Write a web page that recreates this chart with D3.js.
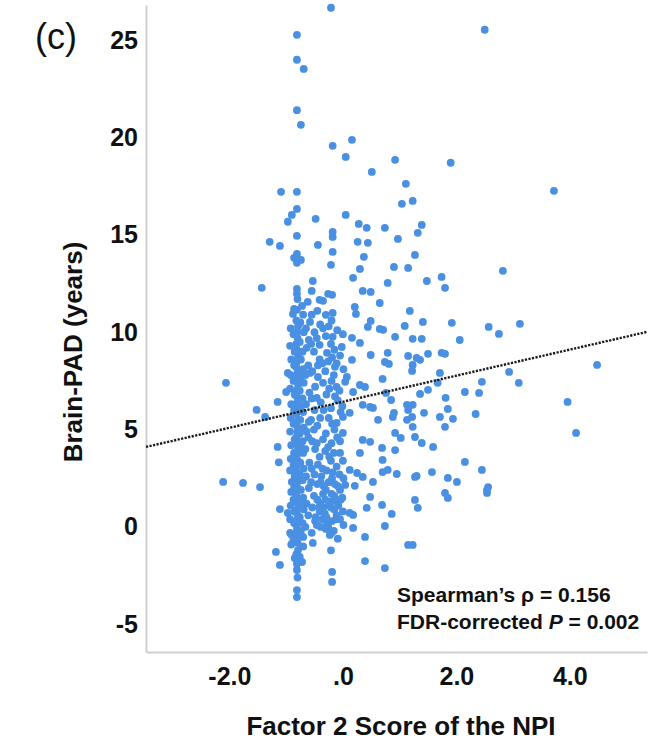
<!DOCTYPE html>
<html>
<head>
<meta charset="utf-8">
<script src="https://cdn.jsdelivr.net/npm/d3@7"></script>
<style>
  html, body { margin: 0; padding: 0; background: #fff; }
  svg { display: block; font-family: "Liberation Sans", Arial, Helvetica, sans-serif; }
</style>
</head>
<body>
<svg id="chart" width="669" height="742"></svg>
<script>
// Factor 2 score of the NPI (x) vs. brain-predicted age difference in years (y)
const participants = [
  // upper range
  [-0.21,26.66],[2.50,25.53],[-0.81,25.27],[-0.81,23.99],[-0.69,23.52],[-0.81,21.40],[-0.74,20.65],
  [0.16,19.88],[-0.18,19.57],[0.05,19.00],[0.92,18.85],[1.90,18.70],[0.51,18.23],[1.11,17.62],[3.72,17.26],
  [-1.09,17.21],[-0.81,17.21],[1.23,16.74],[1.04,16.59],[-0.81,16.33],[-0.90,16.02],[-0.97,15.67],[-0.48,15.82],
  [0.05,16.02],[0.28,15.56],[0.42,15.36],[0.74,15.36],[1.39,15.51],[1.32,15.10],[-0.18,15.15],[-0.18,14.89],
  [0.97,14.79],[0.26,14.64],[0.44,14.59],[-0.81,14.95],[-1.29,14.64],[-1.11,14.43],[-0.44,14.48],
  [-0.18,14.12],[0.37,13.87],[1.27,13.97],[-0.81,14.02],[-0.86,13.82],[-0.74,13.71],[-0.81,13.56],
  [-0.21,13.46],[0.30,13.25],[0.90,13.35],[1.15,13.30],[2.82,13.15],
  [0.18,12.79],[0.79,12.53],[1.48,12.63],[1.74,12.84],[1.80,12.28],[-1.43,12.28],[-0.53,12.63],[-0.55,12.12],
  [-0.81,12.22],[-0.81,11.97],[-0.26,11.97],[0.35,12.12],[0.49,12.07],[-0.19,11.92],
  [-0.35,11.61],[-0.41,11.66],[-0.62,11.56],[-0.72,11.35],[-0.81,11.15],[-0.88,10.94],[-0.30,10.89],
  [0.65,11.50],[0.21,11.30],[0.23,10.94],[1.18,11.09],[-0.18,10.99],
  // 8 to 11 years
  [0.49,10.58],[0.44,10.27],[0.65,10.17],[0.71,10.12],[1.41,10.53],[1.92,10.48],[2.57,10.27],[2.75,9.91],[3.12,10.43],
  [2.06,9.60],[1.09,10.32],[0.92,9.76],[1.23,9.66],[1.39,9.66],[0.16,9.71],[0.30,9.45],[-0.02,9.24],[-0.18,9.76],
  [0.79,8.94],[0.49,8.83],[1.15,8.78],[1.30,8.68],[1.50,8.89],[1.36,8.58],[1.74,8.94],[1.80,8.89],[0.16,8.58],
  [0.74,8.47],[0.81,8.37],[1.23,8.32],[1.22,8.01],[-0.14,8.22],[4.48,8.32],
  [-0.58,10.53],[-0.41,9.35],[-0.28,8.94],[-0.58,7.91],[-0.44,7.70],[-0.35,7.40],[-0.97,7.91],[-0.46,6.63],
  // 5 to 8 years
  [2.93,7.96],[3.10,7.40],[2.45,7.45],[1.71,7.91],[1.67,7.40],[0.70,7.60],[0.07,7.70],[0.04,7.45],[-0.11,7.19],
  [0.30,7.29],[0.39,7.19],[0.18,6.93],[0.76,6.88],[0.85,6.52],[1.36,6.83],[1.50,7.04],[2.15,6.93],[2.40,6.88],
  [3.96,6.42],[1.81,6.63],[1.85,6.06],[1.94,5.55],[2.34,5.80],[1.71,5.65],[1.80,5.14],[1.43,5.86],[1.13,6.27],
  [1.23,6.27],[1.15,6.01],[1.22,5.65],[1.13,5.50],[1.23,5.14],[0.90,5.86],[0.88,5.65],[0.62,5.50],[0.48,6.16],
  [0.35,6.27],[0.53,6.11],[0.12,5.86],[0.00,5.65],[-0.11,5.34],
  [-2.06,7.40],[-1.52,6.01],[-1.37,5.65],[-1.15,6.42],[-1.00,6.93],
  // 2 to 5 years
  [4.11,4.83],[0.92,4.83],[1.02,4.57],[1.27,4.62],[1.39,4.31],[1.59,4.11],[0.92,3.95],[0.00,4.83],[0.35,4.47],
  [0.48,4.37],[0.69,4.06],[0.30,3.80],[-0.05,3.80],[0.70,3.44],[0.79,2.93],[2.15,3.34],[2.45,2.93],[1.57,2.82],
  [0.12,2.93],[0.35,2.57],[0.53,2.31],[1.27,2.57],[1.85,2.52],[2.01,2.31],[2.56,2.05],[0.25,2.77],[0.70,2.82],
  [0.95,2.72],[1.30,2.62],[-1.15,4.11],[-1.13,3.32],
  // below 2 years
  [2.54,1.90],[2.54,1.75],[1.80,1.75],[1.85,1.49],[0.04,2.16],[0.21,2.11],[0.48,1.54],[0.42,0.98],[0.69,1.13],
  [1.27,1.39],[1.32,0.98],[0.12,0.72],[0.18,0.62],[0.86,0.67],[0.18,-0.05],[0.74,0.05],[0.39,-0.51],[1.15,-0.92],
  [1.23,-0.92],[0.39,-1.75],[0.74,-2.11],[-0.19,-2.31],[-0.19,-2.82],
  [-2.11,2.31],[-1.76,2.26],[-1.46,2.05],[-1.11,0.92],[-0.97,0.72],[-0.90,2.31],[-0.93,-0.31],[-0.81,-0.15],
  [-0.70,-0.51],[-0.53,-0.82],[-1.18,-1.28],[-1.11,-1.95],[-0.79,-1.18],[-0.76,-1.54],[-0.72,-1.80],[-0.81,-2.21],
  [-0.81,-3.24],[-0.81,-3.60],[-0.23,-0.41],[-0.90,-0.41],
  // dense block of low factor-2 scores
  [-0.80,11.70],[-0.82,10.60],[-0.79,10.30],[-0.81,10.00],[-0.80,9.70],[-0.82,9.40],[-0.81,9.10],[-0.79,8.80],
  [-0.81,8.50],[-0.82,8.20],[-0.80,7.90],[-0.81,7.60],[-0.79,7.30],[-0.82,7.00],[-0.81,6.70],[-0.80,6.40],
  [-0.81,6.10],[-0.82,5.80],[-0.79,5.50],[-0.81,5.20],[-0.80,4.90],[-0.82,4.60],[-0.81,4.30],[-0.79,4.00],
  [-0.81,3.70],[-0.80,3.40],[-0.82,3.10],[-0.81,2.80],[-0.79,2.50],[-0.81,2.20],[-0.80,1.90],[-0.82,1.60],
  [-0.81,1.30],[-0.79,1.00],[-0.81,0.70],[-0.80,0.40],[-0.82,0.10],[-0.81,-0.50],[-0.80,-0.80],[-0.82,-1.40],
  [-0.81,-1.90],[-0.80,-2.60],
  [-0.92,10.20],[-0.93,9.30],[-0.91,8.60],[-0.92,7.80],[-0.93,7.10],[-0.91,6.30],[-0.92,5.60],[-0.93,4.90],
  [-0.91,4.20],[-0.92,3.50],[-0.93,2.90],[-0.91,1.80],[-0.92,1.10],[-0.93,0.40],[-0.91,-0.90],
  [-0.86,11.20],[-0.87,9.90],[-0.85,9.00],[-0.86,8.30],[-0.87,7.50],[-0.85,6.80],[-0.86,6.00],[-0.87,5.30],
  [-0.85,4.50],[-0.86,3.80],[-0.87,3.20],[-0.85,2.60],[-0.86,2.00],[-0.87,1.40],[-0.85,0.80],[-0.86,0.20],
  [-0.87,-0.70],[-0.85,-1.60],
  [-0.75,10.50],[-0.76,9.50],[-0.74,8.60],[-0.75,7.70],[-0.76,7.00],[-0.74,6.20],[-0.75,5.50],[-0.76,4.80],
  [-0.74,4.10],[-0.75,3.30],[-0.76,2.70],[-0.74,1.90],[-0.75,1.20],[-0.76,0.50],[-0.74,-0.20],
  [-0.70,10.90],[-0.69,10.00],[-0.71,9.00],[-0.70,8.10],[-0.69,7.40],[-0.71,6.60],[-0.70,5.90],[-0.69,5.10],
  [-0.71,4.40],[-0.70,3.80],[-0.69,3.00],[-0.71,2.40],[-0.70,1.50],[-0.69,0.90],[-0.71,0.20],[-0.70,-1.00],
  [-0.65,10.20],[-0.64,9.20],[-0.66,7.80],[-0.65,6.30],[-0.64,4.90],[-0.66,4.00],[-0.65,2.60],[-0.64,1.20],[-0.66,0.00],
  [-0.60,9.60],[-0.61,8.30],[-0.59,6.90],[-0.60,5.40],[-0.61,4.60],[-0.59,3.30],[-0.60,2.00],[-0.61,0.60],
  [-0.55,10.90],[-0.56,9.40],[-0.54,8.00],[-0.55,6.60],[-0.56,5.50],[-0.54,4.40],[-0.55,3.00],[-0.56,2.30],[-0.54,1.00],[-0.55,-0.30],
  [-0.50,10.00],[-0.51,9.00],[-0.49,7.20],[-0.50,6.00],[-0.51,5.00],[-0.49,4.00],[-0.50,2.70],[-0.51,1.60],[-0.49,0.30],
  [-0.45,11.10],[-0.46,9.70],[-0.44,8.30],[-0.45,5.20],[-0.46,4.30],[-0.44,3.20],[-0.45,1.40],[-0.46,0.10],
  [-0.40,10.40],[-0.41,8.60],[-0.39,6.40],[-0.40,5.60],[-0.41,3.60],[-0.39,2.30],[-0.40,1.20],[-0.41,0.80],[-0.39,0.00],
  [-0.35,10.20],[-0.36,8.40],[-0.34,6.00],[-0.35,4.50],[-0.36,3.00],[-0.34,2.10],[-0.35,1.00],[-0.36,0.40],
  [-0.30,9.80],[-0.31,8.00],[-0.29,6.80],[-0.30,4.80],[-0.31,3.90],[-0.29,2.90],[-0.30,1.90],[-0.31,1.40],[-0.29,0.50],[-0.30,-0.10],
  [-0.25,10.30],[-0.26,8.50],[-0.24,7.10],[-0.25,5.60],[-0.26,4.10],[-0.24,3.60],[-0.25,1.10],[-0.26,0.00],
  [-0.20,10.60],[-0.21,9.40],[-0.19,8.70],[-0.20,7.50],[-0.21,6.10],[-0.19,5.30],[-0.20,4.30],[-0.21,3.40],
  [-0.19,2.50],[-0.20,1.70],[-0.21,1.00],[-0.19,0.30],[-0.20,-0.30],[-0.21,-1.20],
  [-0.15,9.10],[-0.16,7.80],[-0.14,6.70],[-0.15,5.00],[-0.16,3.80],[-0.14,2.20],[-0.15,0.90],[-0.16,-0.20],
  [-0.10,10.10],[-0.11,8.40],[-0.09,6.50],[-0.10,4.60],[-0.11,3.10],[-0.09,2.10],[-0.10,1.30],[-0.11,0.60],[-0.09,-0.60],
  [-0.05,8.80],[-0.06,7.00],[-0.04,5.90],[-0.05,4.40],[-0.06,2.70],[-0.04,1.40],[-0.05,0.40],
  [0.00,9.90],[0.01,8.10],[-0.01,6.20],[0.00,3.40],[0.01,2.50],[-0.01,1.50],[0.00,0.80],[0.01,0.10],
  [-0.45,2.20],[-0.35,1.70],[-0.25,2.30],[-0.15,1.60],[-0.42,1.00],[-0.32,0.70],[-0.12,0.40],[-0.22,1.30],
  [-0.05,1.90],[-0.48,0.50],[-0.28,0.20],[-0.38,2.60],[-0.18,2.80],[-0.08,1.10]
];

// linear fit line
const fitIntercept = 6.43;
const fitSlope = 0.669;

const xTicks = [-2, 0, 2, 4];
const xTickLabels = ["-2.0", ".0", "2.0", "4.0"];
const yTicks = [-5, 0, 5, 10, 15, 20, 25];

const xTitle = "Factor 2 Score of the NPI";
const yTitle = "Brain-PAD (years)";
const panelLabel = "(c)";

const svg = d3.select("#chart");

const x = d3.scaleLinear().domain([-3.47, 5.36]).range([146, 647]);
const y = d3.scaleLinear().domain([-6.42, 26.8]).range([652, 5]);

const axisColor = "#cfcfcf";
const font = "'Liberation Sans', Arial, sans-serif";

// axes
const gx = svg.append("g")
  .attr("transform", `translate(0,${y.range()[0]})`)
  .call(d3.axisBottom(x).tickValues(xTicks)
    .tickFormat((d, i) => xTickLabels[i])
    .tickSize(0).tickSizeOuter(0).tickPadding(15));
gx.select(".domain").attr("stroke", axisColor).attr("stroke-width", 2);
gx.selectAll("text")
  .attr("font-size", 25).attr("font-weight", "bold").attr("fill", "#111")
  .attr("font-family", font);

const gy = svg.append("g")
  .attr("transform", `translate(${x.range()[0]},0)`)
  .call(d3.axisLeft(y).tickValues(yTicks).tickFormat(d => String(d))
    .tickSize(0).tickSizeOuter(0).tickPadding(8));
gy.select(".domain").attr("stroke", axisColor).attr("stroke-width", 2);
gy.selectAll("text")
  .attr("font-size", 25).attr("font-weight", "bold").attr("fill", "#111")
  .attr("font-family", font);

// points
svg.append("g")
  .selectAll("circle")
  .data(participants)
  .join("circle")
  .attr("cx", d => x(d[0]))
  .attr("cy", d => y(d[1]))
  .attr("r", 3.9)
  .attr("fill", "#4a90e2");

// fit line across the full x domain
const [x0, x1] = x.domain();
svg.append("line")
  .attr("x1", x(x0)).attr("y1", y(fitIntercept + fitSlope * x0))
  .attr("x2", x(x1)).attr("y2", y(fitIntercept + fitSlope * x1))
  .attr("stroke", "#1a1a1a")
  .attr("stroke-width", 2.4)
  .attr("stroke-dasharray", "2.2,1.4");

// axis titles
svg.append("text")
  .attr("x", 401).attr("y", 735)
  .attr("text-anchor", "middle")
  .attr("font-size", 26).attr("font-weight", "bold").attr("fill", "#111")
  .text(xTitle);

svg.append("text")
  .attr("transform", "translate(82,352) rotate(-90)")
  .attr("text-anchor", "middle")
  .attr("font-size", 26).attr("font-weight", "bold").attr("fill", "#111")
  .text(yTitle);

// panel label
svg.append("text")
  .attr("x", 35).attr("y", 49)
  .attr("font-size", 36).attr("fill", "#111")
  .text(panelLabel);

// statistics
const stats = svg.append("g")
  .attr("font-size", 21).attr("font-weight", "bold").attr("fill", "#111");
stats.append("text").attr("x", 397).attr("y", 602).text("Spearman\u2019s \u03c1 = 0.156");
const pLine = stats.append("text").attr("x", 397).attr("y", 629);
pLine.append("tspan").text("FDR-corrected ");
pLine.append("tspan").attr("font-style", "italic").text("P");
pLine.append("tspan").text(" = 0.002");
</script>
</body>
</html>
